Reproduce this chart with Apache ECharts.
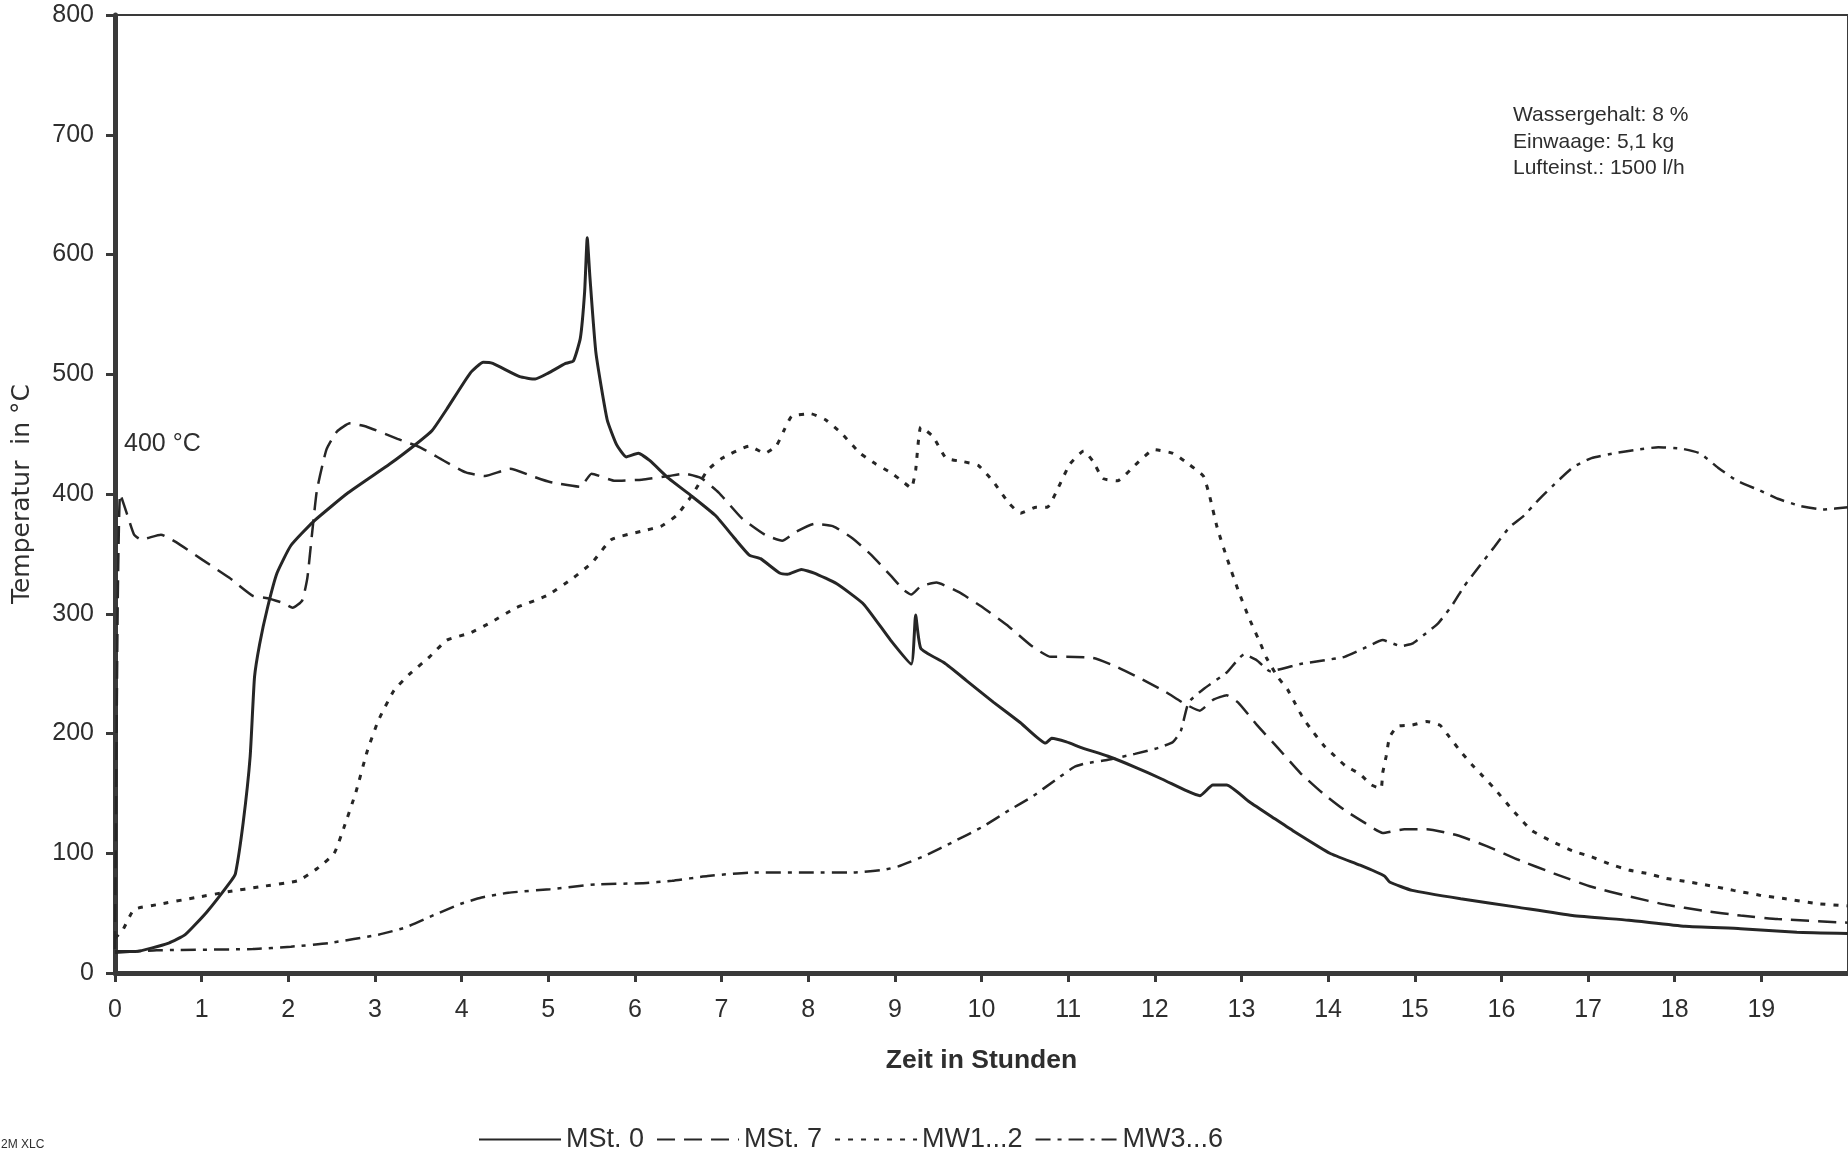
<!DOCTYPE html>
<html>
<head>
<meta charset="utf-8">
<title>Temperaturverlauf</title>
<script src="https://cdn.jsdelivr.net/npm/echarts@6/dist/echarts.min.js"></script>
<style>
  html, body { margin: 0; padding: 0; background: #ffffff; }
  #chart { width: 1848px; height: 1150px; }
</style>
</head>
<body>
<div id="chart"></div>
<script>
// Zeit in Stunden / Temperatur in °C, je Messstelle als [Stunde, Temperatur]
const mst0 = [
  [0,18],[0.24,18],[0.62,25],[0.81,32],[1.06,51],[1.34,77],[1.39,83],[1.48,126],[1.56,181],[1.61,247],
  [1.67,275],[1.76,305],[1.87,334],[2.03,357],[2.29,377],[2.69,401],[3.17,425],[3.48,442],[3.66,453],[3.83,471],
  [4.10,501],[4.25,510],[4.36,509],[4.67,498],[4.85,496],[5.0,501],[5.2,509],[5.29,511],[5.37,530],[5.42,569],
  [5.45,614],[5.48,582],[5.55,518],[5.68,462],[5.79,441],[5.9,431],[6.04,434],[6.17,428],[6.39,413],[6.66,398],
  [6.93,382],[7.15,363],[7.32,349],[7.45,346],[7.67,334],[7.76,333],[7.92,337],[8.07,334],[8.33,325],[8.64,308],
  [8.95,278],[9.19,258],[9.24,299],[9.30,271],[9.57,259],[9.83,244],[10.14,226],[10.45,209],[10.74,192],[10.81,196],
  [10.98,193],[11.16,188],[11.46,181],[11.77,172],[12.08,162],[12.37,152],[12.52,148],[12.67,157],[12.83,157],[13.09,143],
  [13.38,129],[13.59,119],[14.02,100],[14.37,90],[14.65,81],[14.71,76],[14.97,69],[15.53,62],[16.18,55],[16.82,48],
  [17.47,44],[18.12,39],[18.76,37],[19.41,34],[20,33]
];

const mst7 = [
  [0,20],[0.03,300],[0.06,400],[0.14,383],[0.22,366],[0.3,362],[0.53,366],[0.70,360],[1.01,345],[1.32,330],
  [1.59,315],[1.76,313],[1.94,309],[2.05,305],[2.16,311],[2.22,330],[2.27,364],[2.33,403],[2.44,437],[2.56,452],
  [2.71,459],[2.91,456],[3.26,446],[3.52,439],[3.79,428],[4.05,418],[4.27,415],[4.56,421],[4.81,415],[5.02,410],
  [5.37,406],[5.5,417],[5.77,411],[6.08,412],[6.39,415],[6.57,417],[6.77,413],[6.97,401],[7.23,380],[7.5,366],
  [7.7,361],[7.85,368],[8.07,375],[8.29,373],[8.51,363],[8.73,349],[8.95,332],[9.1,320],[9.19,316],[9.30,323],
  [9.48,326],[9.74,318],[10.0,306],[10.32,289],[10.58,273],[10.8,264],[10.98,264],[11.29,263],[11.55,256],[11.86,245],
  [12.12,235],[12.34,225],[12.52,219],[12.67,228],[12.83,232],[12.96,226],[13.18,207],[13.42,188],[13.68,167],[13.94,150],
  [14.19,136],[14.41,126],[14.63,117],[14.88,120],[15.14,120],[15.49,115],[15.83,106],[16.18,95],[16.61,83],[17.04,72],
  [17.47,64],[17.9,57],[18.33,52],[18.76,48],[19.19,45],[20,42]
];

const mw12 = [
  [0,29],[0.09,36],[0.22,53],[0.48,57],[0.93,63],[1.32,68],[1.67,72],[2.11,77],[2.33,87],[2.53,100],
  [2.64,121],[2.78,151],[2.91,185],[3.04,211],[3.22,236],[3.39,249],[3.63,264],[3.83,278],[4.1,284],[4.32,292],
  [4.63,305],[4.98,315],[5.29,330],[5.51,343],[5.73,362],[6.08,369],[6.3,373],[6.48,382],[6.66,399],[6.84,420],
  [7.01,430],[7.32,440],[7.5,434],[7.63,440],[7.72,453],[7.81,465],[8.03,467],[8.2,462],[8.38,451],[8.6,434],
  [8.78,425],[8.95,418],[9.08,411],[9.19,405],[9.24,420],[9.30,456],[9.44,448],[9.59,430],[9.79,427],[9.96,424],
  [10.14,410],[10.32,392],[10.45,384],[10.63,389],[10.76,389],[10.89,406],[11.02,425],[11.18,436],[11.29,427],[11.4,413],
  [11.57,411],[11.77,424],[11.99,437],[12.21,434],[12.39,425],[12.56,415],[12.63,399],[12.72,372],[12.83,347],[12.96,320],
  [13.09,296],[13.22,275],[13.29,263],[13.42,247],[13.53,237],[13.62,225],[13.71,213],[13.82,202],[13.95,190],[14.08,181],
  [14.2,173],[14.37,166],[14.5,157],[14.61,154],[14.63,167],[14.67,181],[14.71,197],[14.8,206],[14.97,207],[15.14,210],
  [15.29,207],[15.4,197],[15.53,185],[15.66,174],[15.79,164],[15.92,154],[16.13,136],[16.35,119],[16.61,109],[16.82,102],
  [17.04,97],[17.25,91],[17.47,86],[17.69,83],[17.9,79],[18.16,76],[18.33,74],[18.68,69],[18.98,65],[19.28,62],
  [19.63,58],[20,56]
];

const mw36 = [
  [0,17],[0.48,19],[1.59,20],[2.03,22],[2.47,25],[3.04,32],[3.35,38],[3.7,49],[4.0,58],[4.23,63],
  [4.54,67],[5.02,70],[5.55,74],[6.08,75],[6.43,77],[6.84,81],[7.37,84],[8.03,84],[8.51,84],[8.86,86],
  [9.04,89],[9.35,98],[9.66,109],[10.01,122],[10.32,136],[10.58,147],[10.85,161],[11.07,172],[11.2,175],[11.46,178],
  [11.77,183],[12.04,188],[12.21,193],[12.3,202],[12.39,226],[12.56,237],[12.83,251],[13.03,266],[13.18,261],[13.33,252],
  [13.68,258],[13.94,261],[14.19,264],[14.41,271],[14.63,278],[14.84,273],[14.97,275],[15.1,282],[15.27,292],[15.44,308],
  [15.57,323],[15.75,340],[15.92,356],[16.09,372],[16.26,382],[16.44,396],[16.61,408],[16.82,422],[17.04,430],[17.3,434],
  [17.56,437],[17.81,439],[18.07,438],[18.29,434],[18.5,422],[18.72,411],[18.98,403],[19.19,396],[19.45,390],[19.71,387],
  [20,389]
];

const seriesNames = ['MSt. 0', 'MSt. 7', 'MW1...2', 'MW3...6'];
const infoLines = ['Wassergehalt: 8 %', 'Einwaage: 5,1 kg', 'Lufteinst.: 1500 l/h'];
const startLabel = '400 °C';
const footNote = '2M XLC';

const ink = '#262626';
const textInk = '#2e2e2e';
const font = '"Liberation Sans", Arial, sans-serif';

function lineSeries(name, data, width, dash) {
  return {
    name: name,
    type: 'line',
    data: data,
    symbol: 'none',
    showSymbol: false,
    smooth: 0.15,
    clip: true,
    lineStyle: { color: ink, width: width, type: dash, cap: 'butt' },
    itemStyle: { color: ink },
    emphasis: { disabled: true }
  };
}

const chart = echarts.init(document.getElementById('chart'), null, { renderer: 'canvas' });

chart.setOption({
  backgroundColor: '#ffffff',
  animation: false,
  textStyle: { fontFamily: font, color: textInk },
  grid: {
    left: 115, top: 15, width: 1740, height: 958,
    show: true, borderColor: '#3a3a3a', borderWidth: 2, backgroundColor: 'transparent'
  },
  xAxis: {
    type: 'value', min: 0, max: 20, interval: 1,
    name: 'Zeit in Stunden', nameLocation: 'middle', nameGap: 74,
    nameTextStyle: { fontFamily: font, fontSize: 26.5, fontWeight: 'bold', color: textInk },
    axisLine: { show: true, onZero: false, lineStyle: { color: '#3a3a3a', width: 5 } },
    axisTick: { show: true, length: 9, lineStyle: { color: '#3a3a3a', width: 3 } },
    axisLabel: { fontFamily: font, fontSize: 25, color: textInk, margin: 25, showMaxLabel: false },
    splitLine: { show: false }
  },
  yAxis: {
    type: 'value', min: 0, max: 800, interval: 100,
    name: 'Temperatur  in °C', nameLocation: 'middle', nameGap: 80, nameRotate: 90,
    nameTextStyle: { fontFamily: '"DejaVu Sans", sans-serif', fontSize: 25, color: textInk },
    axisLine: { show: true, lineStyle: { color: '#3a3a3a', width: 5 } },
    axisTick: { show: true, length: 9, lineStyle: { color: '#3a3a3a', width: 3 } },
    axisLabel: { fontFamily: font, fontSize: 25, color: textInk, margin: 21 },
    splitLine: { show: false }
  },
  legend: {
    data: seriesNames,
    left: 473, top: 1121,
    itemWidth: 82, itemHeight: 14, itemGap: 12,
    itemStyle: { opacity: 0 },
    textStyle: { fontFamily: font, fontSize: 27, color: textInk },
    selectedMode: false
  },
  series: [
    lineSeries(seriesNames[0], mst0, 3, 'solid'),
    lineSeries(seriesNames[1], mst7, 2.5, [18, 9]),
    lineSeries(seriesNames[2], mw12, 3, [5, 8]),
    lineSeries(seriesNames[3], mw36, 2.5, [15, 7, 4, 7])
  ],
  graphic: [
    {
      type: 'text', left: 124, top: 432,
      style: { text: startLabel, font: '25px ' + font, fill: textInk }
    },
    {
      type: 'text', left: 1513, top: 102,
      style: { text: infoLines.join('\n'), font: '21px ' + font, lineHeight: 26.5, fill: textInk }
    },
    {
      type: 'text', left: 1, top: 1139,
      style: { text: footNote, font: '12px ' + font, fill: textInk }
    }
  ]
});
</script>
</body>
</html>
